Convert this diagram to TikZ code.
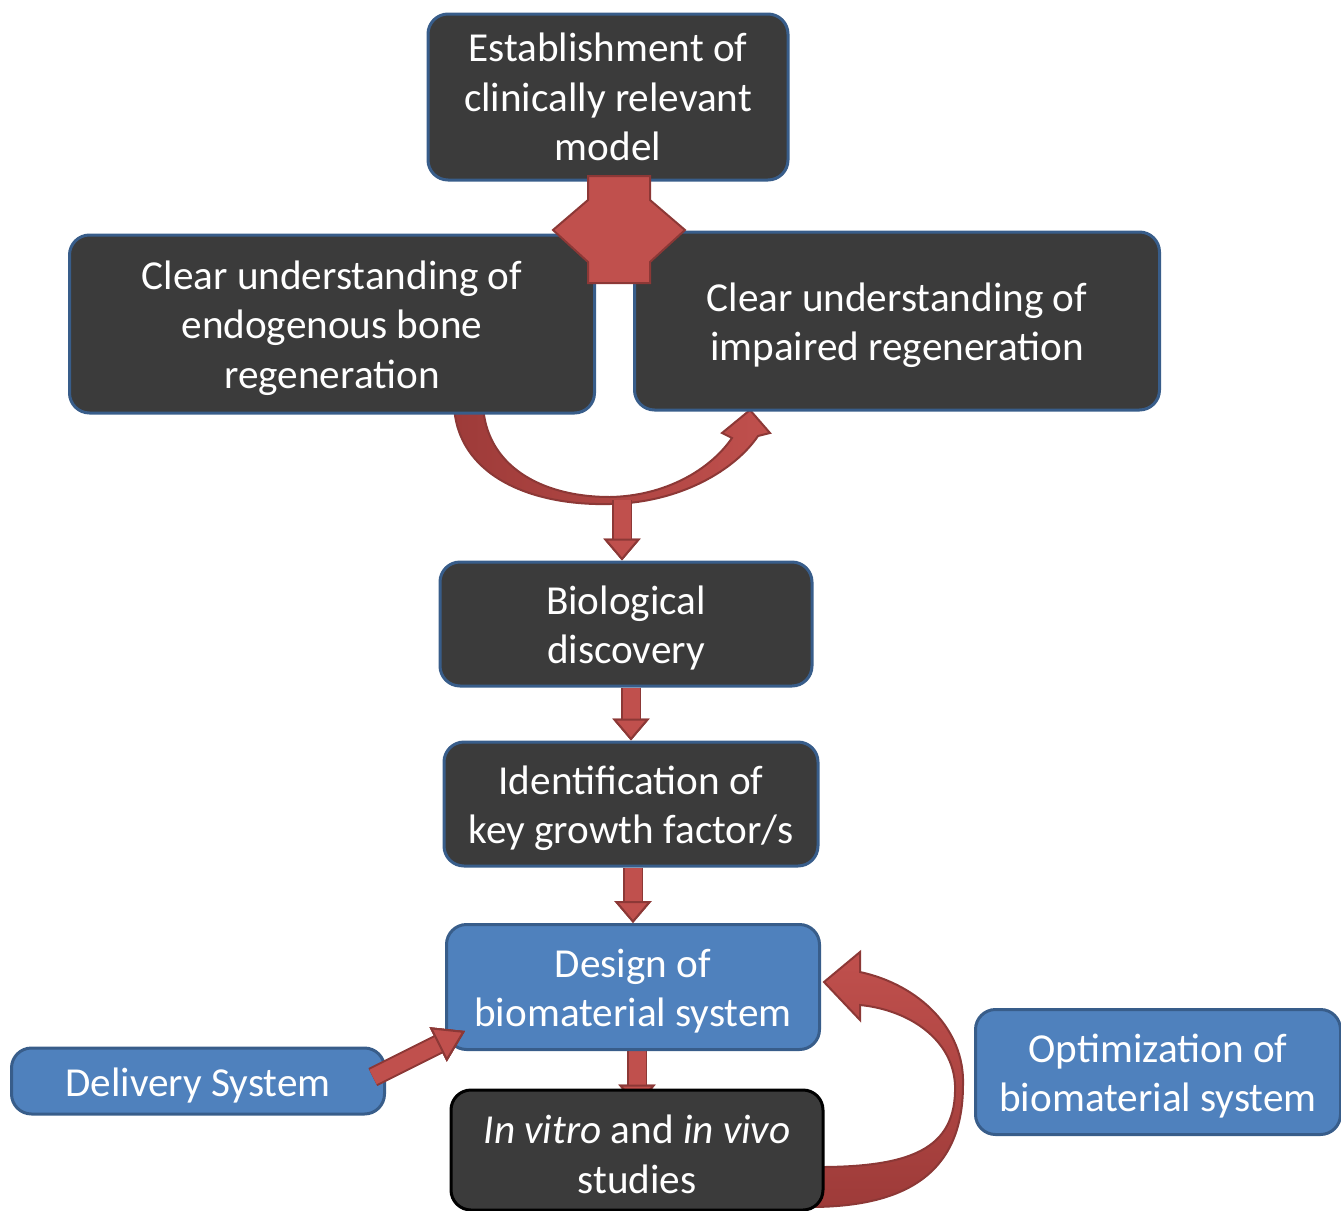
\documentclass[tikz,border=0pt]{standalone}
\usepackage{fontspec}
\setmainfont{Carlito}
\usetikzlibrary{arrows.meta,backgrounds,calc}
\definecolor{boxdark}{HTML}{3B3B3B}
\definecolor{boxedge}{HTML}{385D8A}
\definecolor{boxblue}{HTML}{4F81BD}
\definecolor{arrowred}{HTML}{C0504D}
\definecolor{arrowdeep}{HTML}{9E3B39}
\definecolor{arrowedge}{HTML}{8C3836}
% taller first line, sets the text a little lower in its box
\newcommand{\firstline}{\rule{0pt}{18.5pt}}

\begin{document}
\begin{tikzpicture}[x=0.5pt, y=-0.5pt,
	stage/.style={draw=boxedge, line width=1.5pt, fill=boxdark, rounded corners=10pt,
		text=white, align=center, inner sep=0pt, font=\fontsize{20.6}{24.7}\selectfont},
	bluestage/.style={stage, fill=boxblue},
	blockarrow/.style={draw=arrowred, line width=8.5pt,
		-{Triangle[width=18.5pt, length=11pt, line width=1pt, fill=arrowred, color=arrowedge]},
		preaction={draw=arrowedge, line width=10pt}},
	curvearrow/.style={draw=arrowedge, line width=1pt},
]
\useasboundingbox (0,0) rectangle (1341,1211);

% stages
\node[stage, minimum width=180pt, minimum height=83pt] (model) at (608,97)
	{Establishment of\\clinically relevant\\model};
\node[stage, minimum width=262.5pt, minimum height=89pt] (endo) at (332,324)
	{\firstline Clear understanding of\\endogenous bone\\regeneration};
\node[stage, minimum width=262.5pt, minimum height=89pt] (impaired) at (897,321)
	{\firstline Clear understanding of\\impaired regeneration};
\node[stage, minimum width=186pt, minimum height=62pt] (discovery) at (626,624)
	{\firstline Biological\\discovery};
\node[stage, minimum width=187pt, minimum height=62pt] (factor) at (631,804)
	{\firstline Identification of\\key growth factor/s};
\node[bluestage, minimum width=186.5pt, minimum height=62.5pt] (design) at (633,987)
	{\firstline Design of\\biomaterial system};
\node[bluestage, minimum width=186.5pt, minimum height=33pt] (delivery) at (198,1081)
	{\firstline Delivery System};
\node[stage, draw=black, minimum width=186pt, minimum height=60pt] (studies) at (637,1150)
	{\firstline\textit{In vitro} and \textit{in vivo}\\studies};
\node[bluestage, minimum width=182.5pt, minimum height=62.5pt] (optim) at (1158,1072)
	{\firstline Optimization of\\biomaterial system};

\coordinate (fork) at (622,500);

\begin{scope}[on background layer]
	% curved arrow between the two understandings
	\draw[curvearrow, left color=arrowdeep, right color=arrowred]
		(454,405) .. controls (457,475) and (530,506) .. (610,504)
		.. controls (680,503) and (735,470) .. (758,436)
		-- (770,433) -- (750,410) -- (722,433) -- (732,438)
		.. controls (710,470) and (665,496) .. (610,497)
		.. controls (540,497) and (486,465) .. (483,405) -- cycle;
	\draw[blockarrow] (fork) -- (fork |- discovery.north);
	\draw[blockarrow] (design.south -| studies.north) -- ($(studies.north)+(0,18)$);
	% loop back from the studies
	\draw[curvearrow, top color=arrowred, bottom color=arrowdeep]
		(860,972) .. controls (920,985) and (965,1030) .. (963,1085)
		.. controls (963,1170) and (910,1207) .. (810,1207) -- (810,1167)
		.. controls (910,1168) and (957,1150) .. (955,1085)
		.. controls (953,1040) and (910,1010) .. (860,1005)
		-- (860,1020) -- (824,982) -- (860,952) -- cycle;
\end{scope}

\draw[blockarrow] (factor.north |- discovery.south) -- (factor.north);
\draw[blockarrow] (design.north |- factor.south) -- (design.north);
\draw[blockarrow, line width=8pt, preaction={draw=arrowedge, line width=9.5pt},
	-{Triangle[width=19pt, length=15pt, line width=1pt, fill=arrowred, color=arrowedge]}]
	($(delivery.east)+(-13,-4)$) -- ($(design.south west)+(20,-20)$);

% split below the model
\draw[curvearrow, fill=arrowred]
	(588,176) -- (650,176) -- (650,200) -- (685,230) -- (650,262) -- (650,283)
	-- (588,283) -- (588,262) -- (553,230) -- (588,200) -- cycle;
\end{tikzpicture}
\end{document}
